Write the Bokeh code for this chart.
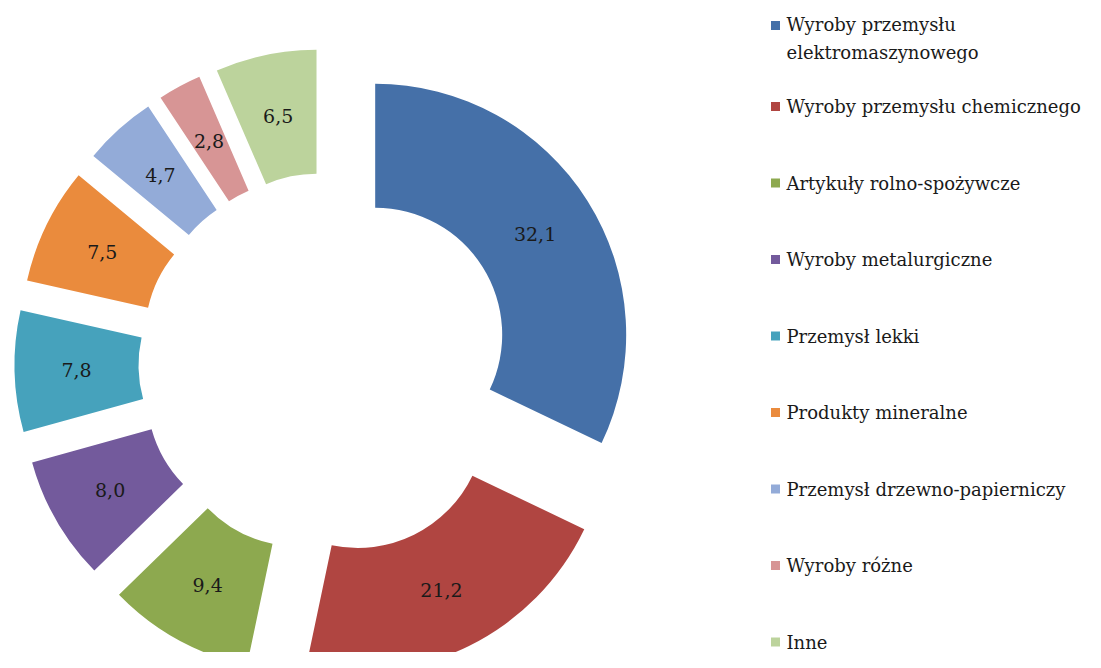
import numpy as np
from bokeh.plotting import figure
from bokeh.models import ColumnDataSource
from bokeh.core.properties import value
from bokeh.embed import file_html
from bokeh.resources import INLINE

# ---- data ----
categories = [
    "Wyroby przemysłu\nelektromaszynowego",
    "Wyroby przemysłu chemicznego",
    "Artykuły rolno-spożywcze",
    "Wyroby metalurgiczne",
    "Przemysł lekki",
    "Produkty mineralne",
    "Przemysł drzewno-papierniczy",
    "Wyroby różne",
    "Inne",
]
shares = [32.1, 21.2, 9.4, 8.0, 7.8, 7.5, 4.7, 2.8, 6.5]
share_labels = ["32,1", "21,2", "9,4", "8,0", "7,8", "7,5", "4,7", "2,8", "6,5"]

# ---- style ----
colors = ["#4570A8", "#B04541", "#8DA94F", "#735A9C", "#46A2BC",
          "#EA8B3D", "#93ABD8", "#D79595", "#BCD39C"]
explode = [54, 64, 64, 64, 64, 64, 64, 64, 64]

W, H = 1085, 652
def fx(xr):  # picture px -> data x
    return xr
def fy(yr):  # picture px -> data y
    return H - yr

CX, CY = fx(329), fy(363)
R_IN, R_OUT = 127, 251

frac = np.array(shares) / np.sum(shares)
cum = np.cumsum(frac)
start_cw = (cum - frac) * 2 * np.pi
end_cw = cum * 2 * np.pi
mid = (start_cw + end_cw) / 2
ex = np.array(explode, dtype=float)
cx = CX + ex * np.sin(mid)
cy = CY + ex * np.cos(mid)
r_mid = (R_IN + R_OUT) / 2

src = ColumnDataSource(dict(
    cx=cx, cy=cy,
    sa=np.pi / 2 - start_cw, ea=np.pi / 2 - end_cw,
    color=colors,
    lx=cx + r_mid * np.sin(mid), ly=cy + r_mid * np.cos(mid),
    lab=share_labels,
))

p = figure(width=W, height=H, x_range=(0, W), y_range=(0, H),
           output_backend="svg", toolbar_location=None, min_border=0)
p.axis.visible = False
p.grid.visible = False
p.outline_line_color = None
p.background_fill_color = "white"
p.border_fill_color = "white"

p.annular_wedge(x="cx", y="cy", inner_radius=R_IN, outer_radius=R_OUT,
                start_angle="sa", end_angle="ea", direction="clock",
                fill_color="color", line_color=None, source=src)
p.text(x="lx", y="ly", text="lab", source=src,
       text_align="center", text_baseline="middle",
       text_font=value("DejaVu Serif"), text_font_size="19px",
       text_color="#1a1a1a")

# ---- legend (drawn manually) ----
n = len(categories)
marker_y_ref = [25] + [106 + (i - 1) * 76.5 for i in range(1, n)]
text_y_ref = [38] + marker_y_ref[1:]
leg = ColumnDataSource(dict(
    mx=[fx(775)] * n, my=[fy(v) for v in marker_y_ref],
    tx=[fx(786)] * n, ty=[fy(v) for v in text_y_ref],
    t=categories, color=colors,
))
p.scatter(x="mx", y="my", marker="square", size=9, fill_color="color",
          line_color=None, source=leg)
p.text(x="tx", y="ty", text="t", source=leg, text_align="left",
       text_baseline="middle", text_font=value("DejaVu Serif"),
       text_font_size="18px", text_color="#1a1a1a", text_line_height=1.35)

open("out.html", "w").write(file_html(p, INLINE))
